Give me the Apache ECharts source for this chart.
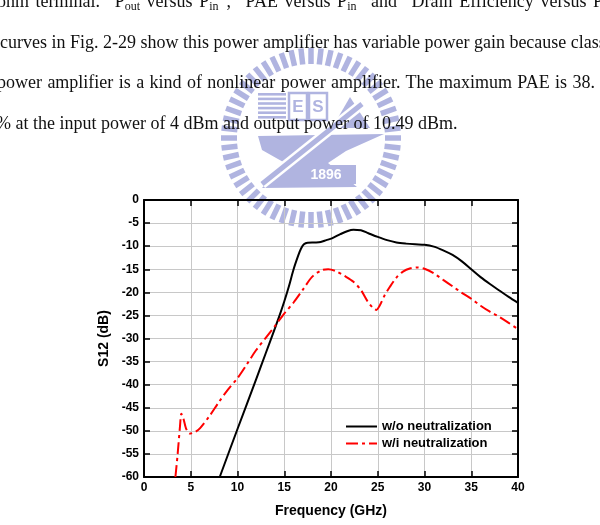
<!DOCTYPE html>
<html>
<head>
<meta charset="utf-8">
<script src="https://cdn.jsdelivr.net/npm/echarts@6/dist/echarts.min.js"></script>
<style>
  html, body { margin: 0; padding: 0; background: #fff; }
  #page { position: relative; width: 600px; height: 525px; overflow: hidden; }
  #chart { position: absolute; left: 0; top: 0; width: 600px; height: 525px; }
  .ln {
    position: absolute; white-space: nowrap;
    font-family: "Liberation Serif", "Times New Roman", serif;
    font-size: 18px; line-height: 18px; color: #111; z-index: 2;
  }
  .just { text-align: justify; text-align-last: justify; }
  .ln sub { font-size: 12px; vertical-align: -3px; line-height: 0; }
</style>
</head>
<body>
<div id="page">
  <div id="chart"></div>
  <div class="ln just" style="left:-3px; top:-8px; width:606px;">ohm terminal. &ldquo;P<sub>out</sub> versus P<sub>in</sub>&rdquo;, &ldquo;PAE versus P<sub>in</sub>&rdquo; and &ldquo;Drain Efficiency versus P</div>
  <div class="ln just" style="left:0px; top:33px; width:604px;">curves in Fig. 2-29 show this power amplifier has variable power gain because class</div>
  <div class="ln just" style="left:-3px; top:73px; width:598px;">power amplifier is a kind of nonlinear power amplifier. The maximum PAE is 38.</div>
  <div class="ln" style="left:-4px; top:114px;">% at the input power of 4 dBm and output power of 10.49 dBm.</div>
</div>
<script>
// S12 vs frequency, with and without neutralization.

const FREQ_TICKS = [0, 5, 10, 15, 20, 25, 30, 35, 40];
const S12_TICKS = [0, -5, -10, -15, -20, -25, -30, -35, -40, -45, -50, -55, -60];

// w/o neutralization (GHz, dB)
const woFreq = [8.1, 10, 12, 13, 14, 14.5, 15, 15.5, 16, 16.5, 16.8, 17.1, 17.5,
  18.3, 18.9, 19.5, 20.1, 21, 21.8, 22.4, 23.2, 24, 25, 26, 27, 28, 29, 30, 31,
  32, 33, 34, 35, 36, 37, 38, 39, 40];
const woS12 = [-60, -49.6, -38.8, -33.3, -27.8, -25.0, -22.0, -18.7, -15.0, -12.0,
  -10.5, -9.6, -9.25, -9.2, -9.1, -8.7, -8.3, -7.4, -6.7, -6.45, -6.55, -7.2,
  -8.0, -8.7, -9.2, -9.45, -9.6, -9.7, -10.1, -10.9, -11.9, -13.3, -15.0, -16.7,
  -18.2, -19.6, -21.0, -22.3];

// w/i neutralization (GHz, dB)
const wiFreq = [3.36, 3.6, 3.85, 4.0, 4.2, 4.5, 4.9, 5.5, 6, 7, 8, 9, 10, 11, 12,
  13, 14, 15, 16, 17, 18, 19, 19.7, 20.5, 21.5, 22.4, 23.2, 23.9, 24.5, 24.85,
  25.2, 25.7, 26.3, 27, 27.7, 28.5, 29.2, 30, 31, 32, 33, 34, 35, 36, 37, 38,
  39, 40];
const wiS12 = [-60, -55, -49, -46.3, -47.2, -49.5, -50.6, -50.2, -49.4, -46.8,
  -43.8, -41, -38.6, -35.6, -32.5, -29.9, -27.3, -24.6, -22.2, -19.4, -16.6,
  -15.2, -15.0, -15.4, -16.5, -17.7, -19.5, -21.9, -23.4, -23.8, -22.9, -20.8,
  -18.8, -16.8, -15.5, -14.8, -14.6, -14.9, -15.9, -17.3, -18.7, -20.1, -21.4,
  -22.9, -24.2, -25.3, -26.6, -28.0];

const SERIES_NAMES = ["w/o neutralization", "w/i neutralization"];

const FONT = "Liberation Sans, Arial, sans-serif";
const LOGO = "#b0b4e0";

function zip(xs, ys) {
  return xs.map((x, i) => [x, ys[i]]);
}

// Faint watermark behind the plot (ring of ticks + anvil emblem).
function logoElements() {
  const cx = 311, cy = 138, r0 = 74, r1 = 90, n = 56;
  const els = [];
  for (let i = 0; i < n; i++) {
    const a = (i / n) * Math.PI * 2;
    els.push({
      type: "line", z: -10, silent: true,
      shape: {
        x1: cx + r0 * Math.cos(a), y1: cy + r0 * Math.sin(a),
        x2: cx + r1 * Math.cos(a), y2: cy + r1 * Math.sin(a),
      },
      style: { stroke: LOGO, lineWidth: 5.5 },
    });
  }
  // book stripes + E / S boxes
  for (let k = 0; k < 6; k++) {
    els.push({ type: "rect", z: -10, silent: true, shape: { x: 258, y: 93 + k * 4.6, width: 28, height: 2.6 }, style: { fill: LOGO } });
  }
  els.push(
    { type: "rect", z: -10, silent: true, shape: { x: 289, y: 93, width: 18, height: 27 }, style: { fill: "none", stroke: LOGO, lineWidth: 2.5 } },
    { type: "rect", z: -10, silent: true, shape: { x: 309, y: 93, width: 18, height: 27 }, style: { fill: "none", stroke: LOGO, lineWidth: 2.5 } },
    { type: "text", z: -9, silent: true, style: { x: 298, y: 107, text: "E", fill: LOGO, font: "bold 17px " + FONT, align: "center", verticalAlign: "middle" } },
    { type: "text", z: -9, silent: true, style: { x: 318, y: 107, text: "S", fill: LOGO, font: "bold 17px " + FONT, align: "center", verticalAlign: "middle" } },
    { type: "polygon", z: -10, silent: true, shape: { points: [[332, 128], [350, 97], [370, 128]] }, style: { fill: LOGO } },
    {
      type: "polygon", z: -10, silent: true,
      shape: { points: [[258, 136], [384, 134], [346, 151], [328, 163], [357, 187], [262, 188], [285, 163], [262, 150]] },
      style: { fill: LOGO },
    },
    { type: "line", z: -9, silent: true, shape: { x1: 262, y1: 184, x2: 362, y2: 104 }, style: { stroke: "#fff", lineWidth: 10 } },
    { type: "line", z: -8, silent: true, shape: { x1: 262, y1: 184, x2: 362, y2: 104 }, style: { stroke: LOGO, lineWidth: 5 } },
    { type: "rect", z: -8, silent: true, shape: { x: 296, y: 165, width: 60, height: 19 }, style: { fill: LOGO } },
    { type: "text", z: -7, silent: true, style: { x: 326, y: 175, text: "1896", fill: "#fff", font: "bold 14px " + FONT, align: "center", verticalAlign: "middle" } },
  );
  return els;
}

const chart = echarts.init(document.getElementById("chart"), null, { renderer: "canvas" });

const axisLine = () => ({ show: true, onZero: false, lineStyle: { color: "#000", width: 2 } });
const tick = () => ({ show: true, inside: true, length: 6, lineStyle: { color: "#000", width: 1.5 } });
const label = { color: "#000", fontFamily: FONT, fontWeight: "bold", fontSize: 12 };
const grid = () => ({ show: true, lineStyle: { color: "#c8c8c8", width: 1 } });

chart.setOption({
  animation: false,
  backgroundColor: "transparent",
  graphic: { elements: logoElements() },
  grid: { left: 144, right: 82, top: 200, bottom: 48 },
  legend: {
    orient: "vertical",
    left: 345,
    top: 420,
    padding: 0,
    itemWidth: 31,
    itemHeight: 14,
    itemGap: 4,
    data: SERIES_NAMES,
    itemStyle: { opacity: 0 },
    textStyle: { color: "#000", fontFamily: FONT, fontWeight: "bold", fontSize: 13 },
  },
  xAxis: [
    {
      type: "value", position: "bottom", min: 0, max: 40, interval: 5,
      axisLine: axisLine(), axisTick: tick(), splitLine: grid(),
      axisLabel: { ...label, margin: 5, formatter: (v) => (FREQ_TICKS.includes(v) ? String(v) : "") },
      name: "Frequency (GHz)", nameLocation: "middle", nameGap: 27,
      nameTextStyle: { color: "#000", fontFamily: FONT, fontWeight: "bold", fontSize: 14 },
    },
    {
      type: "value", position: "top", min: 0, max: 40, interval: 5,
      axisLine: axisLine(), axisTick: tick(), splitLine: { show: false }, axisLabel: { show: false },
    },
  ],
  yAxis: [
    {
      type: "value", position: "left", min: -60, max: 0, interval: 5,
      axisLine: axisLine(), axisTick: tick(), splitLine: grid(),
      axisLabel: { ...label, margin: 5, formatter: (v) => (S12_TICKS.includes(v) ? String(v) : "") },
      name: "S12 (dB)", nameLocation: "middle", nameGap: 27, nameRotate: 90,
      nameTextStyle: { color: "#000", fontFamily: FONT, fontWeight: "bold", fontSize: 14 },
    },
    {
      type: "value", position: "right", min: -60, max: 0, interval: 5,
      axisLine: axisLine(), axisTick: tick(), splitLine: { show: false }, axisLabel: { show: false },
    },
  ],
  series: [
    {
      name: SERIES_NAMES[0], type: "line", symbol: "none", smooth: 0.3, z: 3,
      data: zip(woFreq, woS12),
      itemStyle: { color: "#000" },
      lineStyle: { color: "#000", width: 2 },
    },
    {
      name: SERIES_NAMES[1], type: "line", symbol: "none", smooth: 0.3, z: 3,
      data: zip(wiFreq, wiS12),
      itemStyle: { color: "#ff0000" },
      lineStyle: { color: "#ff0000", width: 2, type: [12, 4, 3, 4] },
    },
  ],
});
</script>
</body>
</html>
